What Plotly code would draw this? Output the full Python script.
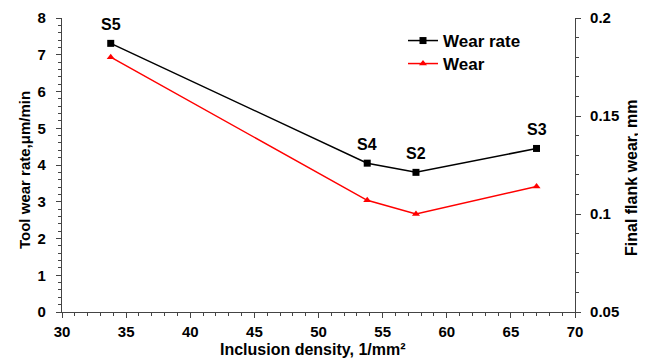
import plotly.graph_objects as go

samples = ["S5", "S4", "S2", "S3"]
density = [33.8, 53.8, 57.6, 67.0]
wear_rate = [7.31, 4.05, 3.80, 4.45]
final_wear = [0.180, 0.107, 0.100, 0.114]

x_ticks = [30, 35, 40, 45, 50, 55, 60, 65, 70]
y_ticks = [0, 1, 2, 3, 4, 5, 6, 7, 8]
y2_ticks = [0.05, 0.1, 0.15, 0.2]
y2_labels = ["0.05", "0.1", "0.15", "0.2"]

FONT = "Liberation Sans"
# page body has an 8px default margin
OFF = 8
W, H = 646 - OFF, 364 - OFF
PL, PR, PT, PB = 62, 575, 18, 312          # plot area in page pixels
PW, PH = PR - PL, PB - PT
L, T = PL - OFF, PT - OFF
R, B = W - L - PW, H - T - PH


def px(xp):
    return (xp - PL) / PW


def py(yp):
    return (PB - yp) / PH


fig = go.Figure()
fig.add_trace(go.Scatter(
    x=density, y=wear_rate, name="Wear rate", mode="lines+markers",
    line=dict(color="black", width=1.5),
    marker=dict(symbol="square", size=7, color="black"),
    legend="legend",
))
fig.add_trace(go.Scatter(
    x=density, y=final_wear, name="Wear", mode="lines+markers", yaxis="y2",
    line=dict(color="#ff0000", width=1.5),
    marker=dict(symbol="triangle-up", size=7, color="#ff0000"),
    legend="legend2",
))

for s, x, y in zip(samples, density, wear_rate):
    fig.add_annotation(x=x, y=y, text="<b>%s</b>" % s, showarrow=False,
                       yshift=19, xanchor="center", yanchor="middle",
                       font=dict(family=FONT, size=16, color="black"))

fig.add_annotation(xref="paper", yref="paper", x=px(313), y=py(349),
                   xanchor="center", yanchor="middle",
                   text="<b>Inclusion density, 1/mm²</b>", showarrow=False,
                   font=dict(family=FONT, size=16, color="black"))
fig.add_annotation(xref="paper", yref="paper", x=px(24), y=py(170),
                   xanchor="center", yanchor="middle",
                   text="<b>Tool wear rate,μm/min</b>", showarrow=False, textangle=-90,
                   font=dict(family=FONT, size=15, color="black"))
fig.add_annotation(xref="paper", yref="paper", x=px(632), y=py(178),
                   xanchor="center", yanchor="middle",
                   text="<b>Final flank wear, mm</b>", showarrow=False, textangle=-90,
                   font=dict(family=FONT, size=16, color="black"))

axis_common = dict(
    showline=True, linecolor="#444", linewidth=1.2, ticks="outside",
    ticklen=5, tickcolor="#444", showgrid=False, zeroline=False, automargin=False,
    tickfont=dict(family=FONT, size=15, color="black"),
)

legend_common = dict(xanchor="left", yanchor="top", bgcolor="rgba(0,0,0,0)",
                     font=dict(family=FONT, size=17, color="black", weight="bold"))

fig.update_layout(
    width=W, height=H,
    margin=dict(l=L, r=R, t=T, b=B),
    paper_bgcolor="white", plot_bgcolor="white",
    font=dict(family=FONT, color="black"),
    xaxis=dict(range=[30, 70], tickvals=x_ticks,
               ticktext=["<b>%d</b>" % v for v in x_ticks], ticklabelstandoff=1,
               minor=dict(dtick=1, ticks="outside", ticklen=3, tickcolor="#444"),
               **axis_common),
    yaxis=dict(range=[0, 8], tickvals=y_ticks,
               ticktext=["<b>%d</b>" % v for v in y_ticks], ticklabelstandoff=7,
               minor=dict(dtick=0.2, ticks="outside", ticklen=3, tickcolor="#444"),
               **axis_common),
    yaxis2=dict(range=[0.05, 0.2], tickvals=y2_ticks,
                ticktext=["<b>%s</b>" % v for v in y2_labels], ticklabelstandoff=6,
                overlaying="y", side="right",
                minor=dict(tick0=0.05, dtick=0.01, ticks="outside", ticklen=3, tickcolor="#444"),
                **axis_common),
    legend=dict(x=px(403), y=py(23), **legend_common),
    legend2=dict(x=px(403), y=py(46), **legend_common),
    showlegend=True,
)

fig.write_html("out.html")
